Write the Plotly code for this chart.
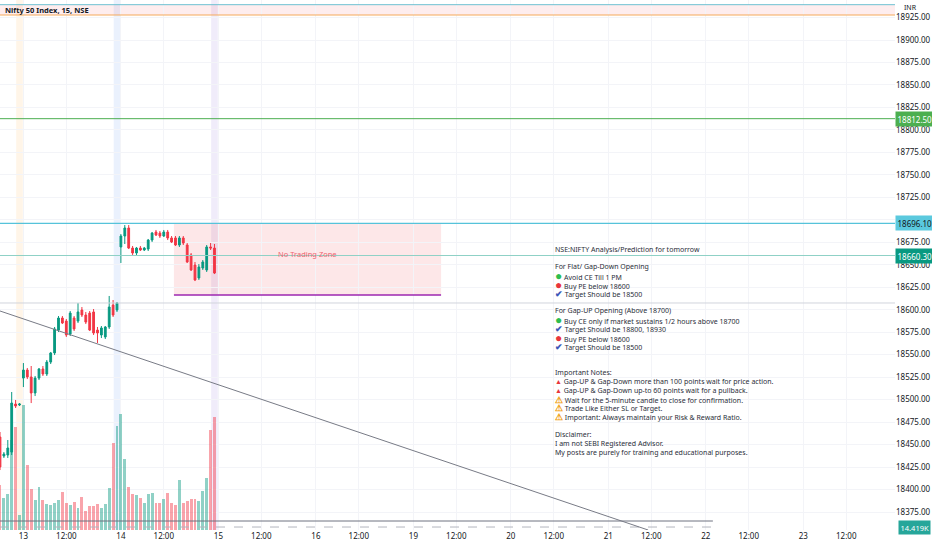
import plotly.graph_objects as go

# bar index 0 = first 15m bar of the 13th, 25 bars per session
bars = list(range(-6, 50))

opens = [18458.4, 18437.3, 18438.4, 18441.7, 18495.1, 18494.0,
         18524.0, 18532.9, 18525.2, 18507.4, 18524.0, 18534.1, 18528.5, 18541.8, 18551.9, 18577.4,
         18590.8, 18587.4, 18573.0, 18590.8, 18587.4, 18599.7, 18594.1, 18596.3, 18597.5, 18577.4,
         18571.9, 18569.7, 18580.8, 18605.2, 18599.7,
         18669.8, 18682.0, 18690.9, 18668.6, 18663.1, 18668.6, 18666.4, 18667.5, 18677.5, 18686.4,
         18685.3, 18682.0, 18686.4, 18679.8, 18679.8, 18672.0, 18679.8, 18672.0, 18660.9, 18649.7,
         18635.3, 18646.4, 18644.2, 18669.8, 18668.6]
highs = [18464.0, 18441.7, 18455.1, 18508.5, 18499.6, 18496.2,
         18540.7, 18535.2, 18537.4, 18526.3, 18535.2, 18537.4, 18544.1, 18553.0, 18580.8, 18593.0,
         18593.0, 18589.7, 18598.6, 18593.0, 18607.5, 18603.0, 18597.5, 18598.6, 18600.8, 18580.8,
         18581.9, 18581.9, 18615.3, 18610.8, 18608.6,
         18684.2, 18694.2, 18694.2, 18670.9, 18669.8, 18670.9, 18669.8, 18678.7, 18686.4, 18688.7,
         18687.6, 18688.7, 18688.7, 18682.0, 18682.0, 18682.0, 18682.0, 18674.2, 18663.1, 18653.1,
         18650.8, 18655.3, 18672.0, 18674.2, 18673.1]
lows = [18421.7, 18435.1, 18435.1, 18438.4, 18490.7, 18492.9,
        18514.0, 18522.9, 18496.2, 18504.0, 18521.8, 18526.3, 18526.3, 18539.6, 18549.6, 18575.2,
        18584.1, 18569.7, 18570.8, 18576.3, 18585.2, 18591.9, 18584.1, 18576.3, 18571.9, 18563.0,
        18568.5, 18567.4, 18578.6, 18591.9, 18597.5,
        18652.0, 18673.1, 18667.5, 18660.9, 18660.9, 18665.3, 18665.3, 18665.3, 18675.3, 18682.0,
        18679.8, 18680.9, 18677.5, 18674.2, 18670.9, 18669.8, 18672.0, 18652.0, 18643.1, 18631.9,
        18633.1, 18644.2, 18642.0, 18666.4, 18639.7]
closes = [18425.1, 18439.5, 18446.2, 18496.2, 18492.9, 18495.1,
          18532.9, 18525.2, 18507.4, 18524.0, 18534.1, 18528.5, 18541.8, 18551.9, 18578.6, 18590.8,
          18585.2, 18571.9, 18596.3, 18578.6, 18597.5, 18594.1, 18586.3, 18577.4, 18574.1, 18574.1,
          18579.7, 18580.8, 18603.0, 18594.1, 18607.5,
          18682.0, 18690.9, 18668.6, 18663.1, 18668.6, 18666.4, 18668.6, 18677.5, 18685.3, 18683.1,
          18682.0, 18686.4, 18679.8, 18675.3, 18672.0, 18679.8, 18674.2, 18653.1, 18644.2, 18633.1,
          18647.5, 18653.1, 18669.8, 18668.6, 18640.8]
volume_k = [5.74, 4.08, 4.59, 11.48, 13.14, 1.91,
            15.95, 8.29, 5.23, 3.83, 5.49, 3.83, 3.32, 3.19, 3.45, 3.83,
            4.85, 3.45, 3.19, 3.57, 2.81, 4.21, 2.42, 3.06, 3.06, 3.32,
            2.81, 3.32, 5.36, 11.10, 13.27,
            14.80, 9.06, 5.49, 4.59, 4.47, 4.08, 3.45, 4.59, 4.72, 3.45,
            3.45, 3.96, 4.72, 3.45, 3.19, 6.38, 3.45, 3.70, 3.96, 3.96,
            3.70, 4.98, 6.64, 12.76, 14.419]

# axis ticks (session starts and 12:00)
tick_bars = [0, 11, 25, 36, 50, 61, 75, 86, 100, 111, 125, 136, 150, 161, 175, 186, 200, 211]
tick_text = ["13", "12:00", "14", "12:00", "15", "12:00", "16", "12:00", "19", "12:00",
             "20", "12:00", "21", "12:00", "22", "12:00", "23", "12:00"]
session_end_bars = [-1, 24, 49]

# drawn levels
top_blue = 18939.3
top_orange = 18927.8
res_green = 18812.5
res_cyan = 18696.1
last_level = 18660.3
grey_level = 18607.5
zone_low = 18616.4
zone_high = 18696.1
zone_bars = [38.6, 107.1]
bottom_solid = 18365.0
bottom_dash = 18358.3
trend_start = (-6, 18598.6)
trend_end = (160.2, 18355.0)

G_DOT = "<span style='color:#2dbd4e;font-size:12px'>●</span>"
R_DOT = "<span style='color:#e8353b;font-size:12px'>●</span>"
CHECK = "<span style='color:#3a56b8;font-size:9px'><b>✔</b></span>"
TRI = "<span style='color:#e8353b;font-size:7px'>▲</span>"
WARN = "<span style='color:#f0a010;font-size:9px'><b>⚠</b></span>"

notes = [
    "NSE:NIFTY Analysis/Prediction for tomorrow",
    "",
    "For Flat/ Gap-Down Opening",
    G_DOT + " Avoid CE Till 1 PM",
    R_DOT + " Buy PE below 18600",
    CHECK + " Target Should be 18500",
    "",
    "For Gap-UP Opening (Above 18700)",
    G_DOT + " Buy CE only if market sustains 1/2 hours above 18700",
    CHECK + " Target Should be 18800, 18930",
    R_DOT + " Buy PE below 18600",
    CHECK + " Target Should be 18500",
    "",
    "",
    "Important Notes:",
    TRI + " Gap-UP &amp; Gap-Down more than 100 points wait for price action.",
    TRI + " Gap-UP &amp; Gap-Down up-to 60 points wait for a pullback.",
    WARN + " Wait for the 5-minute candle to close for confirmation.",
    WARN + " Trade Like Either SL or Target.",
    WARN + " Important: Always maintain your Risk &amp; Reward Ratio.",
    "",
    "Disclaimer:",
    "I am not SEBI Registered Advisor.",
    "My posts are purely for training and educational purposes.",
]

GREEN = "#089981"
RED = "#f23645"
FONT = "Noto Sans"

fig = go.Figure()

vol_colors = ["rgba(8,153,129,0.45)" if c >= o else "rgba(242,54,69,0.45)"
              for o, c in zip(opens, closes)]
fig.add_trace(go.Bar(x=bars, y=volume_k, marker_color=vol_colors, marker_line_width=0,
                     width=0.75, yaxis="y", showlegend=False, hoverinfo="skip"))

fig.add_trace(go.Candlestick(x=bars, open=opens, high=highs, low=lows, close=closes,
                             yaxis="y2", showlegend=False,
                             increasing=dict(line=dict(color=GREEN, width=1), fillcolor=GREEN),
                             decreasing=dict(line=dict(color=RED, width=1), fillcolor=RED)))

shapes = []
# session break highlights
band_cols = ["rgba(255,200,130,0.18)", "rgba(140,180,245,0.18)", "rgba(170,150,230,0.18)"]
for b, col in zip(session_end_bars, band_cols):
    shapes.append(dict(type="rect", xref="x", yref="paper", x0=b - 0.85, x1=b + 0.85, y0=0, y1=1,
                       fillcolor=col, line_width=0, layer="below"))
# top band
shapes.append(dict(type="rect", xref="paper", yref="y2", x0=0, x1=1, y0=top_orange, y1=top_blue,
                   fillcolor="rgba(242,54,69,0.09)", line_width=0, layer="below"))
# no trading zone
shapes.append(dict(type="rect", xref="x", yref="y2", x0=zone_bars[0], x1=zone_bars[1],
                   y0=zone_low, y1=zone_high, fillcolor="rgba(242,54,69,0.12)", line_width=0,
                   layer="below"))

def hline(level, color, width=1, dash="solid", x0=0, x1=1, xref="paper"):
    shapes.append(dict(type="line", xref=xref, yref="y2", x0=x0, x1=x1, y0=level, y1=level,
                       line=dict(color=color, width=width, dash=dash), layer="above"))

hline(top_blue, "#6ec1d1")
hline(top_orange, "#f5a95b")
hline(res_green, "#4caf50")
hline(res_cyan, "#56c3da", 1.3)
hline(last_level, "#8fd1c6")
hline(grey_level, "#d1d4dc")
hline(zone_low, "#9c27b0", 1.5, x0=zone_bars[0], x1=zone_bars[1], xref="x")
hline(bottom_solid, "#6f7380", 1, x0=-6, x1=176.8, xref="x")
hline(bottom_dash, "#b2b5be", 1, "dash", x0=-6, x1=176.8, xref="x")
shapes.append(dict(type="line", xref="x", yref="y2", x0=trend_start[0], y0=trend_start[1],
                   x1=trend_end[0], y1=trend_end[1], line=dict(color="#787b86", width=1),
                   layer="above"))

annotations = []
# chart title
annotations.append(dict(xref="paper", yref="paper", x=0.003, y=0.981, xanchor="left",
                        yanchor="middle", showarrow=False, text="<b>Nifty 50 Index, 15, NSE</b>",
                        font=dict(family=FONT, size=7.5, color="#131722")))
annotations.append(dict(xref="paper", yref="paper", x=1.0, y=0.986, xanchor="left",
                        yanchor="middle", showarrow=False, text="INR", xshift=7,
                        font=dict(family=FONT, size=7, color="#131722")))
annotations.append(dict(xref="x", yref="y2", x=sum(zone_bars) / 2, y=(zone_low + zone_high) / 2 + 6,
                        showarrow=False, text="No Trading Zone",
                        font=dict(family=FONT, size=7.5, color="#f06470")))

# price scale labels
for level, bg, fg in [(res_green, "#4caf50", "white"), (res_cyan, "#5bc9de", "#131722"),
                      (last_level, GREEN, "white")]:
    annotations.append(dict(xref="paper", yref="y2", x=1.0, y=level, xanchor="left",
                            yanchor="middle", showarrow=False, text=f"{level:.2f}",
                            bgcolor=bg, borderpad=1.5,
                            font=dict(family=FONT, size=8, color=fg)))
annotations.append(dict(xref="paper", yref="y2", x=1.0, y=bottom_dash, xanchor="left",
                        yanchor="middle", showarrow=False, text=f"{volume_k[-1]:.3f}K",
                        bgcolor="#26a69a", borderpad=1.5, xshift=3,
                        font=dict(family=FONT, size=7.5, color="white")))

# analysis text block
for i, line in enumerate(notes):
    if not line:
        continue
    py = 249 + i * 8.83
    annotations.append(dict(xref="paper", yref="paper", x=553 / 895, y=1 - py / 530,
                            xanchor="left", yanchor="middle", showarrow=False, text=line,
                            align="left", font=dict(family=FONT, size=7, color="#2a2e39")))

fig.update_layout(
    width=932, height=550,
    margin=dict(l=0, r=37, t=0, b=20),
    paper_bgcolor="white", plot_bgcolor="white",
    shapes=shapes, annotations=annotations,
    bargap=0, boxgap=0.35,
    xaxis=dict(range=[-6.0, 223.5], tickmode="array", tickvals=tick_bars, ticktext=tick_text,
               showgrid=True, gridcolor="#f3f4f8", zeroline=False, showline=False, ticks="",
               rangeslider=dict(visible=False),
               tickfont=dict(family=FONT, size=8, color="#131722")),
    yaxis=dict(range=[0, 67.6], visible=False, fixedrange=True),
    yaxis2=dict(range=[18355.0, 18944.5], overlaying="y", side="right", dtick=25,
                tickformat=".2f", showgrid=True, gridcolor="#f3f4f8", zeroline=False,
                showline=False, ticks="", tickfont=dict(family=FONT, size=8, color="#131722")),
)

# drop the default page margin so the 932x550 figure fills the window
fig.write_html("out.html", config={"displayModeBar": False},
               post_script="document.body.style.margin='0';")
